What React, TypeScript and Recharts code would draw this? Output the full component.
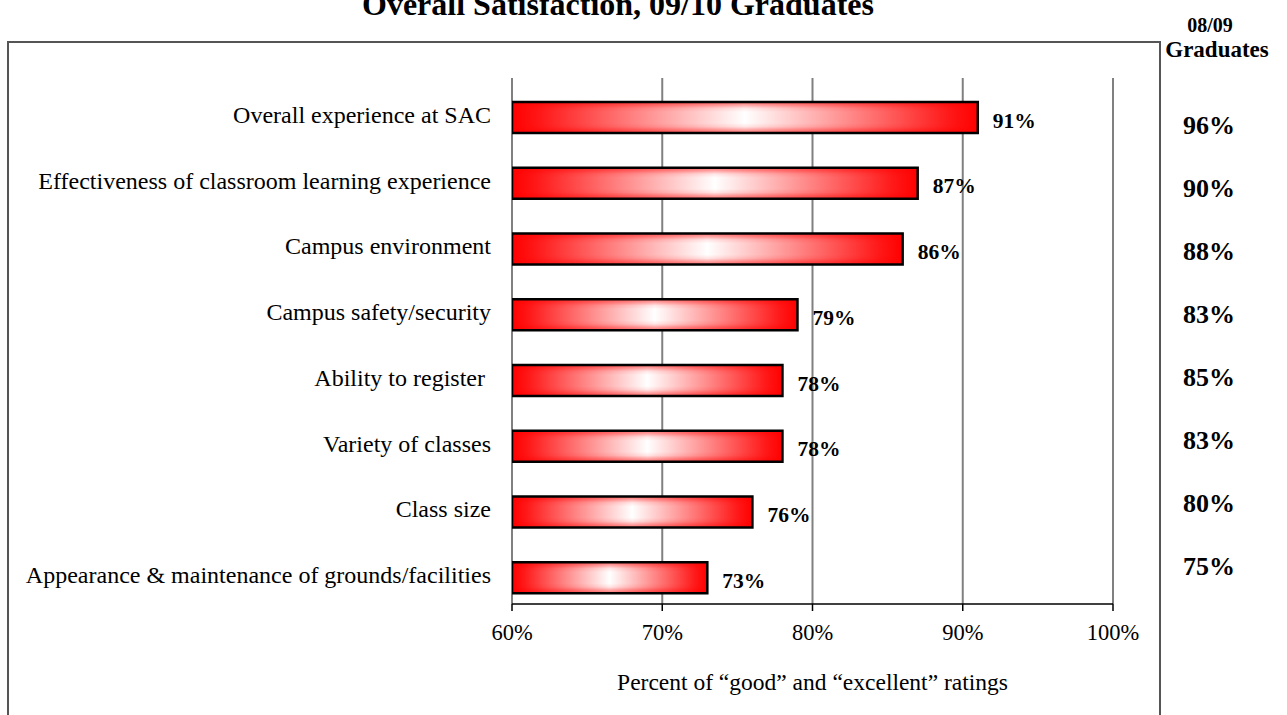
import React from "react";
import { BarChart, Bar, XAxis, YAxis, CartesianGrid, LabelList, ReferenceLine } from "recharts";

const categories = [
  "Overall experience at SAC",
  "Effectiveness of classroom learning experience",
  "Campus environment",
  "Campus safety/security",
  "Ability to register ",
  "Variety of classes",
  "Class size",
  "Appearance & maintenance of grounds/facilities",
];
const current = [91, 87, 86, 79, 78, 78, 76, 73]; // 09/10 graduates
const previous = [96, 90, 88, 83, 85, 83, 80, 75]; // 08/09 graduates
const xTicks = [60, 70, 80, 90, 100];
const boundaryTicks = [0, 1, 2, 3, 4, 5, 6, 7, 8];

const FONT = "'Liberation Serif', 'Times New Roman', serif";

const data = categories.map((name, i) => ({ name, value: current[i], prev: previous[i] }));

// bar with horizontal + vertical red/white gradient and black outline
function GradientBar(props: any) {
  const { x, y, width, height } = props;
  if (!width || width <= 0) return null;
  return (
    <g>
      <rect x={x} y={y} width={width} height={height} fill="url(#barH)" />
      <rect x={x} y={y} width={width} height={height} fill="url(#barV)" />
      <rect x={x} y={y} width={width} height={height} fill="none" stroke="#000" strokeWidth={2.5} />
    </g>
  );
}

function CategoryTick({ x, y, payload }: any) {
  return (
    <text
      x={x}
      y={y - 3}
      textAnchor="end"
      dominantBaseline="central"
      xmlSpace="preserve"
      fontSize={24}
      fontFamily={FONT}
      fill="#000"
    >
      {payload.value}
    </text>
  );
}

function PrevTick({ x, y, index }: any) {
  return (
    <text x={x} y={y} textAnchor="middle" dominantBaseline="central" fontSize={26} fontWeight="bold" fontFamily={FONT} fill="#000">
      {previous[index]}%
    </text>
  );
}

function ValueLabel({ x, y, width, height, value }: any) {
  return (
    <text
      x={x + width + 15}
      y={y + height / 2 + 3}
      dominantBaseline="central"
      fontSize={21.5}
      fontWeight="bold"
      fontFamily={FONT}
      fill="#000"
    >
      {value}%
    </text>
  );
}

export default function App() {
  return (
    <div style={{ position: "absolute", left: 0, top: 0, width: 1287, height: 715, background: "#fff", overflow: "hidden" }}>
      {/* outer frame */}
      <div
        style={{
          position: "absolute",
          left: 7,
          top: 41,
          width: 1154,
          height: 700,
          boxSizing: "border-box",
          borderTop: "2px solid #555",
          borderLeft: "2px solid #555",
          borderRight: "2px solid #555",
        }}
      />

      <div style={{ position: "absolute", left: 0, top: 0 }}>
        <BarChart
          width={1287}
          height={715}
          data={data}
          layout="vertical"
          barSize={31}
          margin={{ top: 78, right: 0, bottom: 21, left: 0 }}
        >
          <defs>
            <linearGradient id="barH" x1="0" y1="0" x2="1" y2="0">
              <stop offset="0" stopColor="#ff0000" />
              <stop offset="0.06" stopColor="#ff1818" />
              <stop offset="0.5" stopColor="#ffffff" />
              <stop offset="0.94" stopColor="#ff1818" />
              <stop offset="1" stopColor="#ff0000" />
            </linearGradient>
            <linearGradient id="barV" x1="0" y1="0" x2="0" y2="1">
              <stop offset="0" stopColor="#ff0000" stopOpacity={0.55} />
              <stop offset="0.1" stopColor="#ff0000" stopOpacity={0.35} />
              <stop offset="0.2" stopColor="#ff0000" stopOpacity={0.1} />
              <stop offset="0.32" stopColor="#ff0000" stopOpacity={0} />
              <stop offset="0.68" stopColor="#ff0000" stopOpacity={0} />
              <stop offset="0.8" stopColor="#ff0000" stopOpacity={0.1} />
              <stop offset="0.9" stopColor="#ff0000" stopOpacity={0.35} />
              <stop offset="1" stopColor="#ff0000" stopOpacity={0.55} />
            </linearGradient>
          </defs>

          <CartesianGrid horizontal={false} vertical stroke="#808080" strokeWidth={2} />

          <XAxis
            type="number"
            domain={[60, 100]}
            ticks={xTicks}
            allowDataOverflow
            tickFormatter={(v: number) => `${v}%`}
            tick={{ fontSize: 22.5, fill: "#000", fontFamily: FONT }}
            tickSize={7}
            tickMargin={13}
            axisLine={{ stroke: "#000", strokeWidth: 1.5 }}
            tickLine={{ stroke: "#000", strokeWidth: 1.5 }}
            height={90}
            label={{
              value: "Percent of \u201cgood\u201d and \u201cexcellent\u201d ratings",
              position: "insideBottom",
              offset: 4,
              fill: "#000",
              fontSize: 23.5,
              fontFamily: FONT,
            }}
          />

          {/* categories (bars) */}
          <YAxis
            type="category"
            dataKey="name"
            width={512}
            padding={{ top: 7, bottom: -7 }}
            axisLine={false}
            tickLine={false}
            tickMargin={15}
            tick={<CategoryTick />}
            interval={0}
          />

          {/* boundary ticks on left axis */}
          <YAxis
            yAxisId="grid"
            type="number"
            domain={[0, 8]}
            ticks={boundaryTicks}
            allowDataOverflow
            width={0}
            tickSize={7}
            tickFormatter={() => ""}
            axisLine={{ stroke: "#000", strokeWidth: 1.5 }}
            tickLine={{ stroke: "#000", strokeWidth: 1.5 }}
          />

          {/* 08/09 comparison column */}
          <YAxis
            yAxisId="prev"
            orientation="right"
            type="category"
            dataKey="name"
            width={174}
            padding={{ top: 16, bottom: 6 }}
            axisLine={false}
            tickLine={false}
            tickSize={0}
            tickMargin={96}
            tick={<PrevTick />}
            interval={0}
          />

          <ReferenceLine yAxisId="grid" y={8} stroke="#808080" strokeWidth={2} />

          <Bar dataKey="value" shape={<GradientBar />} isAnimationActive={false}>
            <LabelList dataKey="value" content={<ValueLabel />} />
          </Bar>
        </BarChart>
      </div>

      <svg width={1287} height={715} style={{ position: "absolute", left: 0, top: 0, pointerEvents: "none" }}>
        <text x={362} y={15} fontSize={32} fontWeight="bold" fontFamily={FONT} fill="#000">
          Overall Satisfaction, 09/10 Graduates
        </text>
        <text x={1210} y={32} textAnchor="middle" fontSize={20} fontWeight="bold" fontFamily={FONT} fill="#000">
          08/09
        </text>
        <text x={1217} y={57} textAnchor="middle" fontSize={23} fontWeight="bold" fontFamily={FONT} fill="#000">
          Graduates
        </text>
      </svg>
    </div>
  );
}
